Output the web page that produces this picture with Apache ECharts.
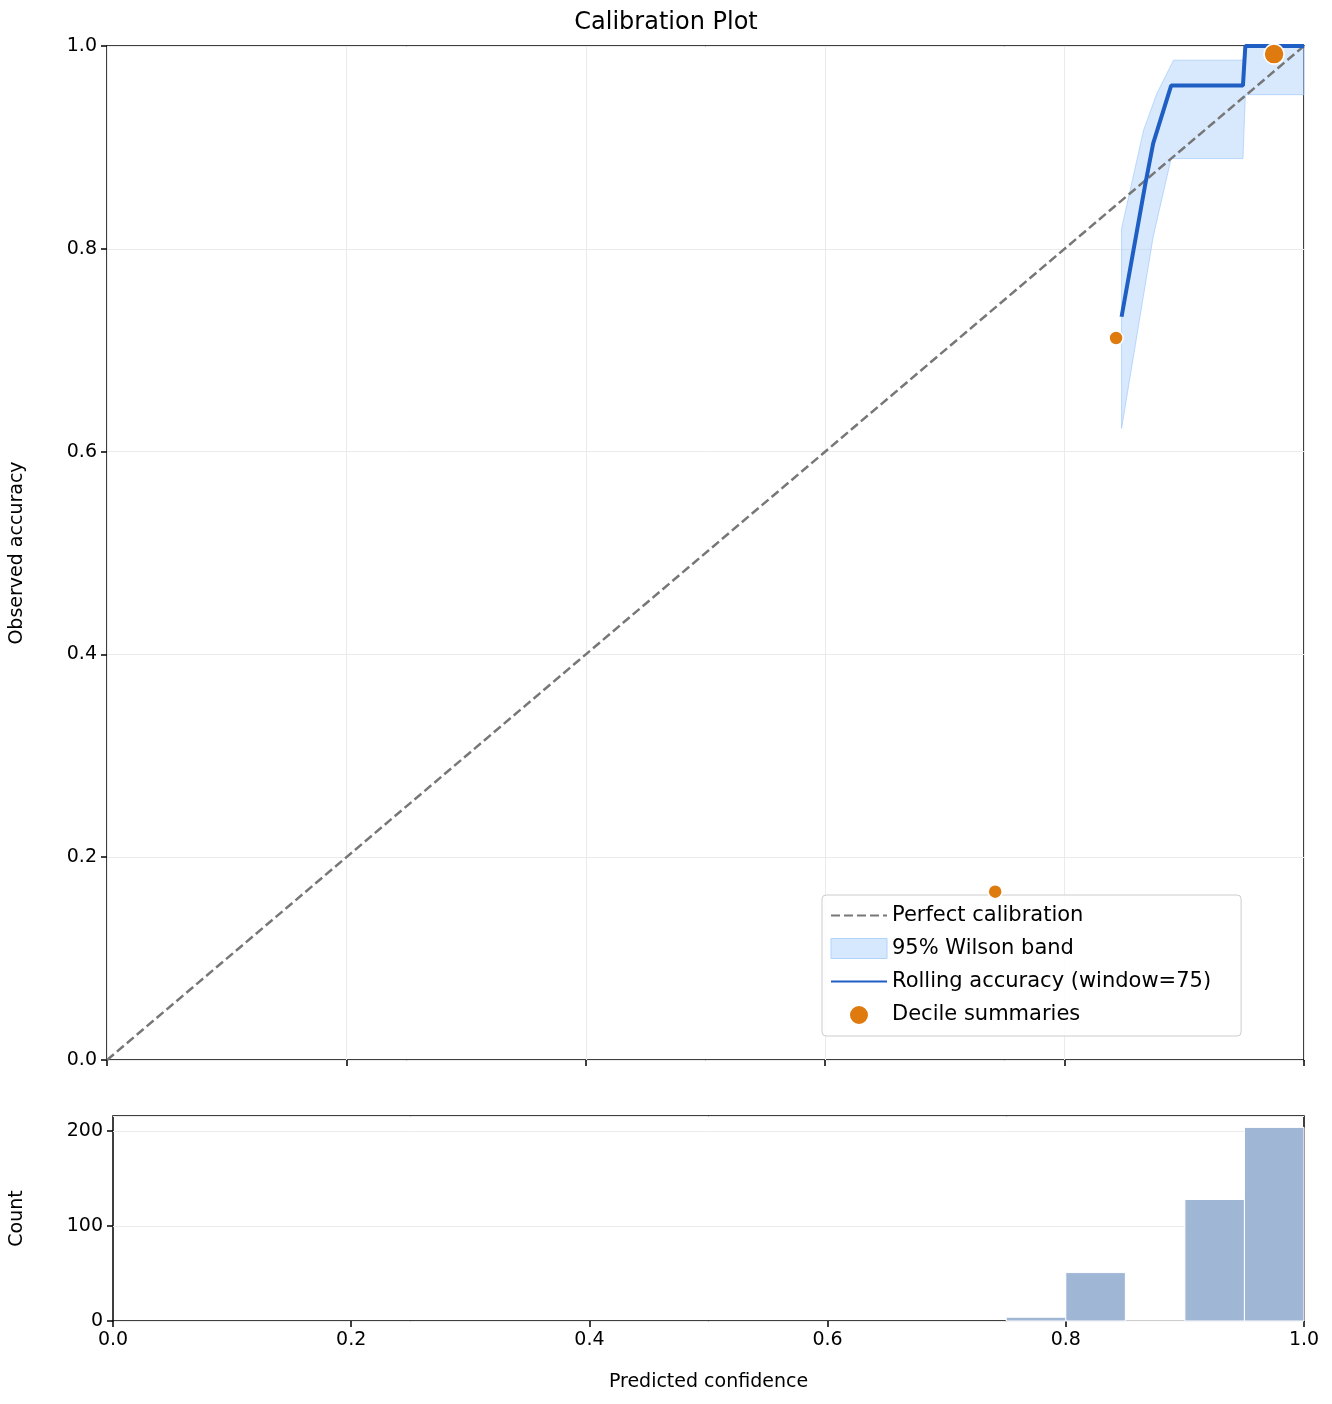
<!DOCTYPE html>
<html>
<head>
<meta charset="utf-8">
<script src="https://cdn.jsdelivr.net/npm/echarts@6/dist/echarts.min.js"></script>
<style>html,body{margin:0;padding:0;background:#fff}#chart{width:1332px;height:1404px}</style>
</head>
<body>
<div id="chart"></div>
<script type="text/javascript">
	var perfect = [[0, 0], [1, 1]];
	var rolling = [[0.8476, 0.733], [0.867, 0.861], [0.874, 0.904], [0.889, 0.961], [0.949, 0.961], [0.951, 1.0], [1.0, 1.0]];
	var bandUpper = [[0.8476, 0.820], [0.866, 0.917], [0.877, 0.953], [0.891, 0.986], [0.949, 0.986], [0.951, 1.0], [1.0, 1.0]];
	var bandLower = [[0.8476, 0.623], [0.874, 0.812], [0.889, 0.889], [0.949, 0.889], [0.951, 0.952], [1.0, 0.952]];
	var deciles = [[0.742, 0.166, 14], [0.843, 0.712, 14], [0.975, 0.992, 20]];
	var binEdges = [0.75, 0.8, 0.85, 0.9, 0.95, 1.0];
	var binCounts = [4, 51, 0, 128, 204];

	var font = 'DejaVu Sans';
	var fs = 19;

	// polygon for the band, built from upper then reversed lower
	var bandPoly = bandUpper.concat(bandLower.slice().reverse());
	var histData = [];
	for (var i = 0; i < binCounts.length; i++) {
		histData.push([binEdges[i], binEdges[i + 1], binCounts[i]]);
	}
	function fmt1(v) { return v.toFixed(1); }
	var tick = {show: true, length: 6, lineStyle: {color: '#000', width: 1.5}};

	var chart = echarts.init(document.getElementById('chart'));
	var option = {
		animation: false,
		title: {text: 'Calibration Plot', left: 'center', top: 6,
			textStyle: {fontSize: 24, fontWeight: 'normal', color: '#000', fontFamily: font}},
		grid: [
			{left: 107, top: 46, width: 1197, height: 1014, show: true, borderColor: '#000', borderWidth: 1.5},
			{left: 107, top: 1116, width: 1197, height: 205, show: true, borderColor: '#000', borderWidth: 1.5}
		],
		xAxis: [
			{gridIndex: 0, type: 'value', min: 0, max: 1, interval: 0.2,
				axisLine: {show: false}, axisTick: tick,
				axisLabel: {show: false}, splitLine: {lineStyle: {color: '#ebebeb'}}},
			{gridIndex: 1, type: 'value', min: 0, max: 1, interval: 0.2,
				name: 'Predicted confidence', nameLocation: 'middle', nameGap: 52,
				nameTextStyle: {fontSize: fs, color: '#000', fontFamily: font},
				axisLine: {show: false}, axisTick: tick,
				axisLabel: {formatter: fmt1, margin: 10, fontSize: fs, color: '#000', fontFamily: font},
				splitLine: {show: false}}
		],
		yAxis: [
			{gridIndex: 0, type: 'value', min: 0, max: 1, interval: 0.2,
				name: 'Observed accuracy', nameLocation: 'middle', nameGap: 80,
				nameTextStyle: {fontSize: fs, color: '#000', fontFamily: font},
				axisLine: {show: false}, axisTick: tick,
				axisLabel: {formatter: fmt1, margin: 10, fontSize: fs, color: '#000', fontFamily: font},
				splitLine: {lineStyle: {color: '#ebebeb'}}},
			{gridIndex: 1, type: 'value', min: 0, max: 216, interval: 100,
				name: 'Count', nameLocation: 'middle', nameGap: 86,
				nameTextStyle: {fontSize: fs, color: '#000', fontFamily: font},
				axisLine: {show: false}, axisTick: tick,
				axisLabel: {showMaxLabel: false, margin: 10, fontSize: fs, color: '#000', fontFamily: font},
				splitLine: {lineStyle: {color: '#ebebeb'}}}
		],
		legend: {
			orient: 'vertical', left: 822, top: 895, width: 440, itemGap: 12,
			padding: [10, 30, 10, 8], borderColor: '#ccc', borderWidth: 1, borderRadius: 4,
			backgroundColor: 'rgba(255,255,255,0.85)', itemWidth: 56, itemHeight: 20,
			textStyle: {fontSize: 21, color: '#000', fontFamily: font},
			data: [
				{name: 'Perfect calibration', itemStyle: {opacity: 0}},
				{name: '95% Wilson band', icon: 'rect', itemStyle: {color: '#d6e8fd', borderColor: '#b0d2fb', borderWidth: 1}},
				{name: 'Rolling accuracy (window=75)', itemStyle: {opacity: 0}},
				{name: 'Decile summaries', icon: 'circle'}
			]
		},
		series: [
			{name: '95% Wilson band', type: 'custom', xAxisIndex: 0, yAxisIndex: 0, z: 1,
				data: [0], itemStyle: {color: '#d6e8fd'},
				renderItem: function (params, api) {
					var pts = bandPoly.map(function (p) { return api.coord(p); });
					return {type: 'polygon', shape: {points: pts},
						style: {fill: 'rgba(163,203,250,0.42)', stroke: 'rgba(150,195,250,0.6)', lineWidth: 1}};
				}},
			{name: 'Perfect calibration', type: 'line', xAxisIndex: 0, yAxisIndex: 0, data: perfect, z: 3,
				symbol: 'none', lineStyle: {color: '#777', width: 2.5, type: [9, 4]}, itemStyle: {color: '#777'}},
			{name: 'Rolling accuracy (window=75)', type: 'line', xAxisIndex: 0, yAxisIndex: 0, data: rolling, z: 4,
				symbol: 'none', lineStyle: {color: '#1f5fc4', width: 4}, itemStyle: {color: '#1f5fc4'}},
			{name: 'Decile summaries', type: 'scatter', xAxisIndex: 0, yAxisIndex: 0, data: deciles, z: 5,
				symbolSize: function (v) { return v[2]; },
				itemStyle: {color: '#de7a0e', borderColor: '#fff', borderWidth: 1.5, opacity: 1}},
			{name: 'hist', type: 'custom', xAxisIndex: 1, yAxisIndex: 1, data: histData,
				renderItem: function (params, api) {
					var a = api.coord([api.value(0), api.value(2)]);
					var b = api.coord([api.value(1), 0]);
					return {type: 'rect', shape: {x: a[0], y: a[1], width: b[0] - a[0], height: b[1] - a[1]},
						style: {fill: '#9fb6d5', stroke: '#fff', lineWidth: 1}};
				}}
		]
	};
	chart.setOption(option);
</script>
</body>
</html>
